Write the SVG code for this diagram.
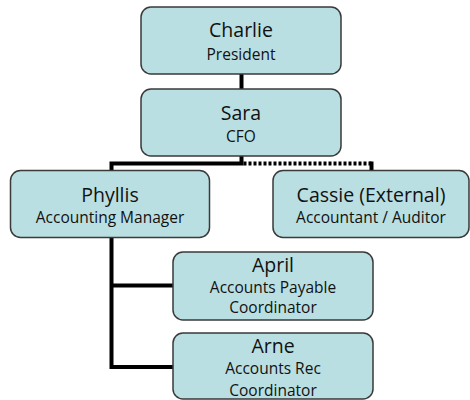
<svg xmlns="http://www.w3.org/2000/svg" width="470" height="400" viewBox="0 0 470 400">
<style>
.box{fill:#badfe2;stroke:#3a3a3a;stroke-width:1.5}
.n{font-family:"Open Sans","Noto Sans",sans-serif;font-size:19.5px;fill:#111;text-anchor:middle}
.t{font-family:"Open Sans","Noto Sans",sans-serif;font-size:15.5px;fill:#111;text-anchor:middle}
.c{fill:none;stroke:#000;stroke-width:4}
.d{fill:none;stroke:#000;stroke-width:4;stroke-dasharray:3 2}
</style>
<rect width="470" height="400" fill="#fff"/>
<g id="connectors">
<line class="c" x1="241.5" y1="74" x2="241.5" y2="89"/>
<polyline class="c" points="241.5,156 241.5,163.5 111.5,163.5 111.5,170"/>
<polyline class="c" points="111.5,238 111.5,367 173,367"/>
<line class="c" x1="111.5" y1="285.5" x2="173" y2="285.5"/>
<polyline class="d" points="243.5,163.5 371.5,163.5"/>
<line class="c" x1="371.5" y1="161.5" x2="371.5" y2="170"/>
</g>
<g id="charlie">
<rect class="box" x="141" y="7" width="200" height="67" rx="10"/>
<text class="n" x="241" y="37">Charlie</text>
<text class="t" x="241" y="59.5">President</text>
</g>
<g id="sara">
<rect class="box" x="141" y="89" width="200" height="67" rx="10"/>
<text class="n" x="241" y="120">Sara</text>
<text class="t" x="241" y="141.5">CFO</text>
</g>
<g id="phyllis">
<rect class="box" x="10.5" y="170.5" width="199" height="67" rx="10"/>
<text class="n" x="110" y="202">Phyllis</text>
<text class="t" x="110" y="223">Accounting Manager</text>
</g>
<g id="cassie">
<rect class="box" x="273" y="170.5" width="196" height="67" rx="10"/>
<text class="n" x="371" y="202">Cassie (External)</text>
<text class="t" x="371" y="223">Accountant / Auditor</text>
</g>
<g id="april">
<rect class="box" x="173" y="252" width="200" height="68" rx="10"/>
<text class="n" x="273" y="272">April</text>
<text class="t" x="273" y="292.5">Accounts Payable</text>
<text class="t" x="273" y="312.5">Coordinator</text>
</g>
<g id="arne">
<rect class="box" x="173" y="333" width="200" height="66" rx="10"/>
<text class="n" x="273" y="352.5">Arne</text>
<text class="t" x="273" y="374">Accounts Rec</text>
<text class="t" x="273" y="396">Coordinator</text>
</g>
</svg>
